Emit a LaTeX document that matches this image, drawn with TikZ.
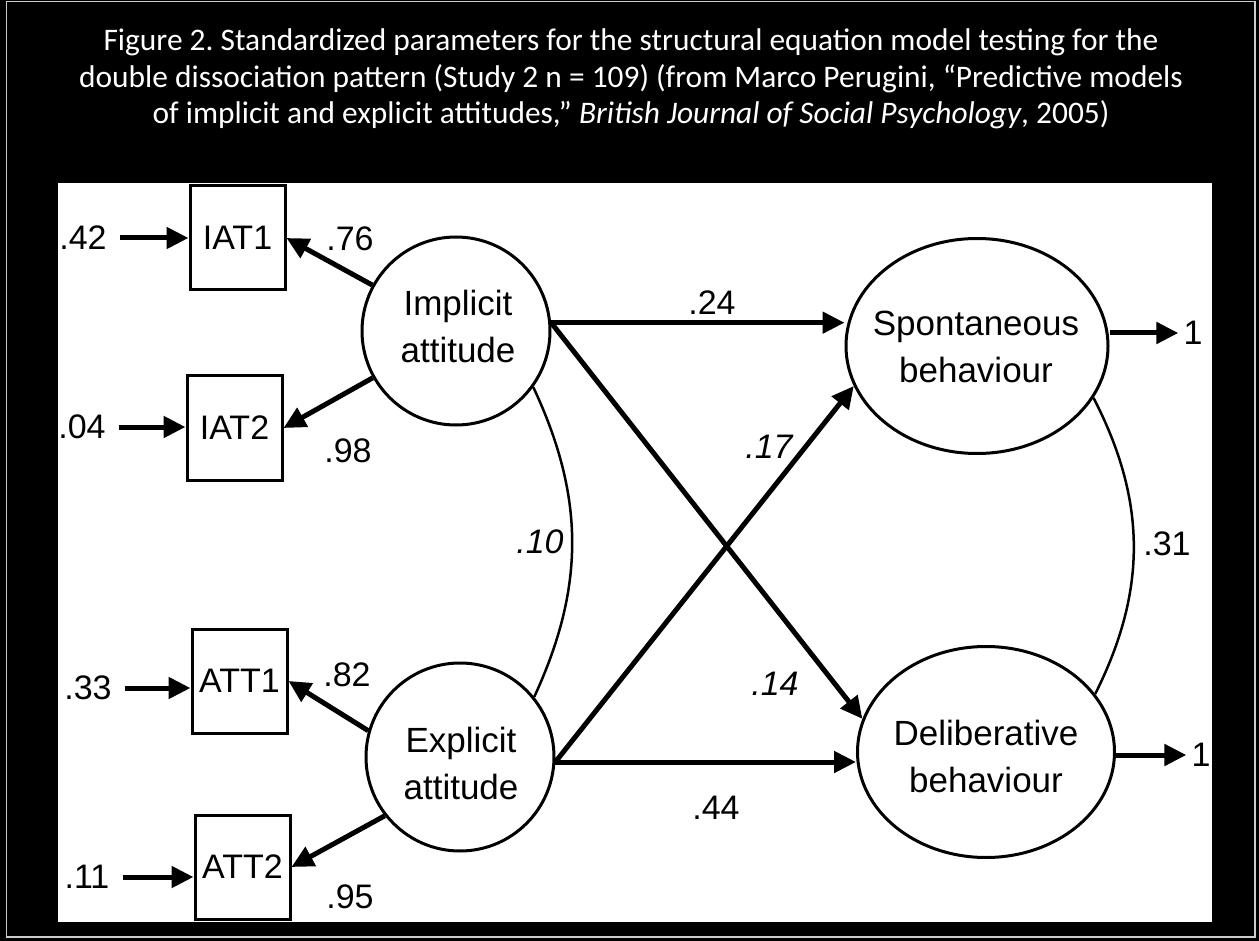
\documentclass[tikz,border=0pt]{standalone}
\usepackage{fontspec}
\setmainfont{Liberation Sans}
\newfontfamily\titlefont{Carlito}
\usetikzlibrary{shapes.geometric,arrows.meta}
\frenchspacing

\tikzset{
	obs/.style={draw,rectangle,line width=3pt,minimum width=95pt,minimum height=104pt,inner sep=0pt,font=\fontsize{34}{40}\selectfont},
	latent/.style={draw,line width=3pt,inner sep=0pt},
	ltext/.style={align=center,inner sep=0pt,font=\fontsize{35}{47}\selectfont},
	coef/.style={inner sep=5pt,font=\fontsize{34}{40}\selectfont},
	effect/.style={line width=5pt,-{Triangle[length=22pt,width=21pt]}},
	cov/.style={line width=2.5pt},
	titleline/.style={white,anchor=base,font=\titlefont\fontsize{31.4}{37}\selectfont},
}

\begin{document}
\begin{tikzpicture}[x=1pt,y=-1pt]
	\fill[black] (0,0) rectangle (1259,941);
	\draw[gray!40,line width=1.2pt] (6.5,1.5) rectangle (1255,937);
	\fill[white] (58,183) rectangle (1212,922);
	% title
	\node[titleline] (title1) at (631,51) {Figure 2. Standardized parameters for the structural equation model testing for the};
	\node[titleline] (title2) at (631,88) {double dissociation pattern (Study 2 n = 109) (from Marco Perugini, “Predictive models};
	\node[titleline] (title3) at (631,124) {of implicit and explicit attitudes,” \textit{British Journal of Social Psychology}, 2005)};
	% indicators
	\node[obs] (iat1) at (237.5,238) {IAT1};
	\node[obs] (iat2) at (234.5,428) {IAT2};
	\node[obs] (att1) at (239.5,681) {ATT1};
	\node[obs] (att2) at (242.5,867) {ATT2};
	\node[coef] (e1) at (83,238) {.42};
	\node[coef] (e2) at (82,427) {.04};
	\node[coef] (e3) at (88,688) {.33};
	\node[coef] (e4) at (87,877) {.11};
	\draw[effect,shorten <=8pt] (e1) -- (e1 -| iat1.west);
	\draw[effect,shorten <=8pt] (e2) -- (e2 -| iat2.west);
	\draw[effect,shorten <=8pt] (e3) -- (e3 -| att1.west);
	\draw[effect,shorten <=8pt] (e4) -- (e4 -| att2.west);
	% latent variables
	\node[latent,circle,minimum size=188pt] (impl) at (456,331) {};
	\node[latent,circle,minimum size=188pt] (expl) at (460,757) {};
	\node[latent,ellipse,minimum width=262pt,minimum height=215pt] (spont) at (977,346) {};
	\node[latent,ellipse,minimum width=257pt,minimum height=211pt] (delib) at (986,752) {};
	\node[ltext] (impl-t) at (458,326) {Implicit\\attitude};
	\node[ltext] (expl-t) at (461,763) {Explicit\\attitude};
	\node[ltext] (spont-t) at (976,347) {Spontaneous\\behaviour};
	\node[ltext] (delib-t) at (986,756) {Deliberative\\behaviour};
	% loadings
	\draw[effect] (impl) -- (iat1.east);
	\draw[effect] (impl) -- (iat2.east);
	\draw[effect] (expl.164) -- (att1.east);
	\draw[effect] (expl.218) -- (att2.east);
	\node[coef] (l76) at (350,239) {.76};
	\node[coef] (l98) at (348,451) {.98};
	\node[coef] (l82) at (347,675) {.82};
	\node[coef] (l95) at (350,897) {.95};
	% structural paths
	\draw[effect] (impl.5) -- (impl.5 -| spont.west);
	\draw[effect] (impl.5) -- (delib.165);
	\draw[effect] (expl.-3) -- (spont.198);
	\draw[effect] (expl.-3) -- (expl.-3 -| delib.west);
	\node[coef] (l24) at (712,303) {.24};
	\node[coef,font=\fontsize{34}{40}\selectfont\itshape] (l17) at (769,447) {.17};
	\node[coef,font=\fontsize{34}{40}\selectfont\itshape] (l14) at (775,684) {.14};
	\node[coef] (l44) at (716,808) {.44};
	% correlations
	\draw[cov] (impl.-36) to[bend left=25] (expl.39);
	\draw[cov] (spont.-24) to[bend left=27] (delib.28);
	\node[coef,font=\fontsize{34}{40}\selectfont\itshape] (l10) at (540,542) {.10};
	\node[coef] (l31) at (1167,544) {.31};
	% residuals
	\node[coef] (r1) at (1193,333) {1};
	\node[coef] (r2) at (1201,755) {1};
	\draw[effect] (spont.east |- r1) -- (r1);
	\draw[effect] (delib.east |- r2) -- (r2);
\end{tikzpicture}
\end{document}
